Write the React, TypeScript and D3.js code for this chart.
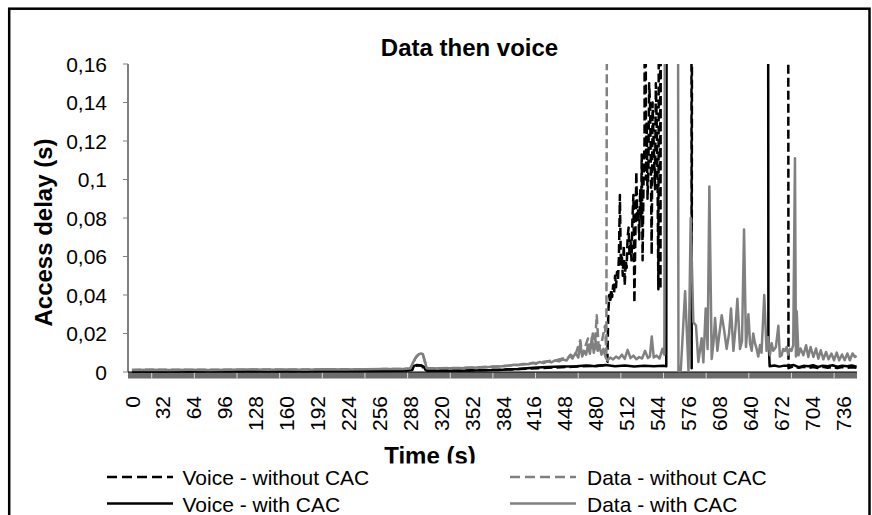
import React from 'react';
import * as d3 from 'd3';

type P = [number, number];

const titleText = 'Data then voice';
const yTitle = 'Access delay (s)';
const xTitle = 'Time (s)';
const yTicks = [0, 0.02, 0.04, 0.06, 0.08, 0.1, 0.12, 0.14, 0.16];
const xTickLabels = [0, 32, 64, 96, 128, 160, 192, 224, 256, 288, 320, 352, 384, 416, 448, 480, 512, 544, 576, 608, 640, 672, 704, 736];
const seriesNames = ['Voice - without CAC', 'Data - without CAC', 'Voice - with CAC', 'Data - with CAC'];

// Voice - without CAC (black dashed)
const voiceNoCac: P[] = [
  [0, 0.0004], [40, 0.0004], [80, 0.0005], [120, 0.0005], [160, 0.0005], [200, 0.0006], [240, 0.0006], [280, 0.0007],
  [290, 0.0012], [292, 0.003], [296, 0.0035], [300, 0.0033], [303, 0.0012], [306, 0.0007], [340, 0.0008], [380, 0.0012],
  [400, 0.0015], [420, 0.002], [440, 0.0024], [460, 0.0028], [480, 0.0032], [490, 0.0035], [492, 0.005],
  [493, 0.031], [494, 0.04], [495, 0.036], [496, 0.043], [497, 0.039], [498, 0.045], [499, 0.041], [500, 0.05],
  [501, 0.044], [502, 0.052], [503, 0.048], [504, 0.06], [505, 0.092], [506, 0.055], [507, 0.061], [508, 0.05],
  [509, 0.066], [510, 0.045], [511, 0.058], [512, 0.054], [513, 0.07], [514, 0.075], [515, 0.06], [516, 0.068],
  [517, 0.058], [518, 0.08], [519, 0.092], [520, 0.036], [521, 0.07], [522, 0.104], [523, 0.078], [524, 0.085],
  [525, 0.069], [526, 0.095], [527, 0.08], [527.6, 0.113], [528.5, 0.058], [529.5, 0.1], [530.5, 0.12], [531, 0.4],
  [532, 0.1], [532.8, 0.13], [533.6, 0.09], [534.5, 0.106], [535.3, 0.15], [536.2, 0.139], [537, 0.11], [537.9, 0.061],
  [538.8, 0.14], [539.6, 0.125], [540.5, 0.11], [541.4, 0.095], [542.2, 0.15], [543.1, 0.13], [544, 0.1], [544.8, 0.043],
  [546, 0.4], [547, 0.043], [548, 0.5], [578.6, 0.5], [579.3, 0.002], [580.1, 0.5], [678.8, 0.5], [679.5, 0.002],
  [684, 0.0028], [690, 0.0022], [695, 0.0027], [700, 0.002], [705, 0.0026], [710, 0.0021], [715, 0.0027], [720, 0.0022],
  [725, 0.0026], [730, 0.002], [735, 0.0026], [740, 0.0021], [745, 0.0025], [750, 0.0022],
];

// Data - without CAC (grey dashed)
const dataNoCac: P[] = [
  [0, 0.0011], [20, 0.0012], [40, 0.0012], [60, 0.0011], [80, 0.0012], [100, 0.0012], [120, 0.0012], [140, 0.0013],
  [160, 0.0012], [180, 0.0013], [200, 0.0013], [220, 0.0014], [240, 0.0013], [260, 0.0015], [280, 0.0016], [288, 0.0017],
  [291, 0.0045], [293, 0.0068], [295, 0.0082], [297, 0.009], [299, 0.0092], [301, 0.009], [303, 0.0055], [305, 0.0019],
  [320, 0.002], [340, 0.0021], [360, 0.0025], [380, 0.003], [400, 0.0037], [410, 0.0043], [420, 0.0048], [430, 0.0056],
  [440, 0.0062], [446, 0.007], [450, 0.0065], [454, 0.009], [458, 0.0075], [461, 0.012], [464, 0.0165], [466, 0.009],
  [469, 0.013], [472, 0.0174], [474, 0.01], [477, 0.02], [479, 0.012], [481, 0.0295], [483, 0.013], [486, 0.015],
  [489.6, 0.024], [491, 0.01], [492.5, 0.5], [600, 0.5], [750, 0.5],
];

// Voice - with CAC (black solid)
const voiceCac: P[] = [
  [0, 0.0003], [40, 0.0003], [80, 0.0004], [120, 0.0004], [160, 0.0004], [200, 0.0005], [240, 0.0005], [280, 0.0006],
  [290, 0.001], [292, 0.0032], [295, 0.0036], [299, 0.0034], [302, 0.0028], [304, 0.001], [306, 0.0006], [340, 0.0007],
  [380, 0.0011], [400, 0.0016], [415, 0.0022], [430, 0.0026], [445, 0.0028], [460, 0.003], [470, 0.0034], [480, 0.003],
  [490, 0.0036], [500, 0.003], [510, 0.0034], [520, 0.0028], [530, 0.0033], [540, 0.003], [550, 0.0032], [553, 0.003],
  [554, 0.5], [658, 0.5], [658.7, 0.019], [660, 0.003], [665, 0.0034], [670, 0.0028], [675, 0.0033], [680, 0.0032],
  [685, 0.0036], [690, 0.0025], [695, 0.0032], [700, 0.003], [705, 0.0035], [710, 0.0026], [715, 0.0033], [720, 0.003],
  [725, 0.0035], [730, 0.0027], [735, 0.0033], [740, 0.003], [745, 0.0034], [750, 0.0028],
];

// Data - with CAC (grey solid)
const dataCac: P[] = [
  [0, 0.001], [20, 0.0012], [40, 0.0011], [60, 0.0012], [80, 0.0011], [100, 0.0012], [120, 0.0013], [140, 0.0012],
  [160, 0.0013], [180, 0.0012], [200, 0.0014], [220, 0.0013], [240, 0.0014], [260, 0.0015], [280, 0.0016], [288, 0.0018],
  [291, 0.005], [293, 0.007], [295, 0.0085], [297, 0.0093], [299, 0.0096], [301, 0.0094], [303, 0.006], [305, 0.002],
  [310, 0.0018], [320, 0.0019], [330, 0.002], [340, 0.002], [350, 0.0022], [360, 0.0024], [370, 0.0026], [380, 0.0028],
  [390, 0.0032], [395, 0.0038], [400, 0.0036], [405, 0.0042], [410, 0.004], [415, 0.0048], [418, 0.0042], [422, 0.0052],
  [426, 0.0046], [430, 0.0055], [434, 0.005], [438, 0.006], [442, 0.0055], [446, 0.0065], [450, 0.006], [453, 0.0085],
  [456, 0.007], [459, 0.0098], [462, 0.0075], [464, 0.015], [466, 0.008], [468, 0.011], [470, 0.009], [472, 0.014],
  [474, 0.0095], [476, 0.018], [478, 0.01], [480, 0.016], [482, 0.011], [484, 0.013], [486, 0.009], [488, 0.012],
  [490, 0.008], [492, 0.006], [495, 0.0075], [498, 0.0065], [501, 0.008], [504, 0.007], [507, 0.009], [510, 0.0068],
  [513, 0.0115], [516, 0.0072], [519, 0.0085], [522, 0.0066], [525, 0.0078], [528, 0.007], [531, 0.011], [534, 0.0072],
  [536, 0.008], [538, 0.0185], [540, 0.0075], [543, 0.0085], [546, 0.007], [549, 0.012], [551, 0.009], [552.5, 0.5],
  [564.5, 0.5], [565.6, 0.0005], [568, 0.0005], [572.5, 0.042], [576, 0.0005], [578.3, 0.08], [581, 0.026],
  [583.8, 0.024], [586.2, 0.0052], [589.6, 0.0175], [591.4, 0.005], [593.8, 0.033], [595.8, 0.012], [597.6, 0.0964],
  [600, 0.0068], [601.8, 0.015], [603.5, 0.028], [605.9, 0.011], [608, 0.02], [610.4, 0.0295], [612.8, 0.022],
  [615.5, 0.012], [618, 0.02], [620, 0.033], [622.5, 0.011], [624.5, 0.022], [626.6, 0.038], [629.3, 0.012],
  [631.4, 0.016], [633.5, 0.074], [635.5, 0.013], [638, 0.03], [639.7, 0.015], [641.4, 0.011], [643, 0.02],
  [644.8, 0.015], [646.5, 0.012], [648.2, 0.008], [650, 0.014], [651.6, 0.01], [654.4, 0.04], [656.8, 0.011],
  [658.5, 0.018], [660.2, 0.0087], [662, 0.015], [663.7, 0.011], [666.5, 0.013], [669, 0.024], [670.6, 0.008],
  [672.4, 0.0087], [674, 0.012], [675.8, 0.011], [677.5, 0.013], [679.2, 0.009], [681, 0.012], [682.6, 0.011],
  [684.4, 0.014], [686.2, 0.111], [687.2, 0.008], [688, 0.0315], [689.8, 0.0087], [692, 0.0122], [694.9, 0.0087],
  [697.7, 0.0139], [700, 0.0078], [702.4, 0.013], [705.3, 0.0078], [708, 0.0122], [710.4, 0.0069], [712.9, 0.0113],
  [715.6, 0.0066], [718.4, 0.0104], [721, 0.0066], [723.9, 0.0096], [726.6, 0.0061], [729.4, 0.0101], [732, 0.0061],
  [734.9, 0.0091], [737.6, 0.0061], [740.4, 0.0096], [743, 0.0061], [745.8, 0.0096], [748.2, 0.0078], [750, 0.0085],
];

const FONT = '"Liberation Sans", Arial, sans-serif';

export default function App() {
  const W = 872, H = 515;
  const left = 128, right = 857, top = 64, bottom = 372;
  const x = d3.scaleLinear().domain([-4.1, 750.4]).range([left, right]);
  const y = d3.scaleLinear().domain([0, 0.16]).range([bottom, top]);
  const line = d3.line<P>().x(d => x(d[0])).y(d => y(d[1]));
  const grey = '#808080';

  const series = [
    { data: voiceNoCac, color: '#000', dash: '9 4' },
    { data: dataNoCac, color: grey, dash: '9 4' },
    { data: voiceCac, color: '#000', dash: undefined },
    { data: dataCac, color: grey, dash: undefined },
  ];

  const bandLines: number[] = [];
  for (let bx = 151.7; bx < right; bx += 42.65) bandLines.push(bx);

  const fmt = (v: number) => String(+v.toFixed(2)).replace('.', ',');

  const legendItems = [
    { name: seriesNames[0], color: '#000', dash: '10 5', lx: 107, ly: 477, tx: 182.5, ty: 485 },
    { name: seriesNames[1], color: grey, dash: '10 5', lx: 510, ly: 477, tx: 587, ty: 485 },
    { name: seriesNames[2], color: '#000', dash: undefined, lx: 107, ly: 503.5, tx: 182.5, ty: 511.5 },
    { name: seriesNames[3], color: grey, dash: undefined, lx: 510, ly: 503.5, tx: 587, ty: 511.5 },
  ];

  return (
    <svg width={W} height={H} style={{ position: 'absolute', left: 0, top: 0, background: '#fff' }} fontFamily={FONT}>
      <defs>
        <clipPath id="plotclip">
          <rect x={left} y={top} width={right - left} height={bottom - top + 3} />
        </clipPath>
      </defs>
      <rect x={0} y={0} width={W} height={H} fill="#fff" />
      <rect x={9.2} y={8.7} width={860.3} height={530} fill="none" stroke="#000" strokeWidth={2.5} />

      <text x={469.5} y={56} textAnchor="middle" fontSize={24} fontWeight="bold">{titleText}</text>

      {/* x band (dense category ticks) */}
      <rect x={left} y={bottom} width={right - left} height={6.5} fill="#6c6c6c" />
      {bandLines.map((bx, i) => (
        <line key={i} x1={bx} x2={bx} y1={bottom + 0.5} y2={bottom + 6.5} stroke="#d8d8d8" strokeWidth={1} />
      ))}

      {/* y axis */}
      <line x1={left} x2={left} y1={top} y2={bottom} stroke="#000" strokeWidth={1} />
      {yTicks.map(t => (
        <g key={t}>
          <line x1={left - 5} x2={left} y1={y(t)} y2={y(t)} stroke={grey} strokeWidth={1} />
          <text x={107} y={y(t)} dy="0.36em" textAnchor="end" fontSize={21}>{fmt(t)}</text>
        </g>
      ))}
      <line x1={left} x2={right} y1={bottom} y2={bottom} stroke="#000" strokeWidth={1} />

      {xTickLabels.map(t => (
        <text key={t} transform={`translate(${x(t)},396) rotate(-90)`} dy="0.36em" textAnchor="end" fontSize={21}>{t}</text>
      ))}

      <g clipPath="url(#plotclip)">
        {series.map((s, i) => (
          <path key={i} d={line(s.data) || ''} fill="none" stroke={s.color} strokeWidth={2.5}
            strokeDasharray={s.dash} strokeLinejoin="round" />
        ))}
      </g>

      <text transform="translate(51.5,232.5) rotate(-90)" textAnchor="middle" fontSize={24} fontWeight="bold">{yTitle}</text>
      <text x={430} y={463.5} textAnchor="middle" fontSize={24} fontWeight="bold">{xTitle}</text>

      {/* legend */}
      <rect x={11} y={463.5} width={857} height={H - 463.5} fill="#fff" />
      {legendItems.map((l, i) => (
        <g key={i}>
          <line x1={l.lx} x2={l.lx + 66} y1={l.ly} y2={l.ly} stroke={l.color} strokeWidth={2.5} strokeDasharray={l.dash} />
          <text x={l.tx} y={l.ty} fontSize={21}>{l.name}</text>
        </g>
      ))}
    </svg>
  );
}
